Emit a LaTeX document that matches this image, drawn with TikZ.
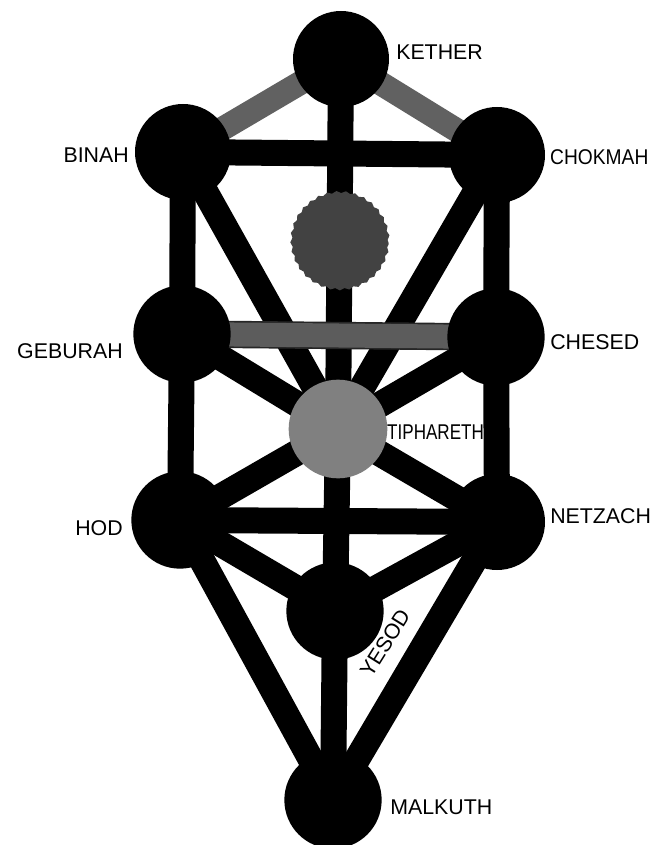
\documentclass[tikz,border=0pt]{standalone}
\usepackage{fontspec}
\setmainfont{Liberation Sans}
\usetikzlibrary{backgrounds,decorations.pathmorphing,positioning}

\definecolor{pathgray}{gray}{0.38}
\definecolor{bargray}{gray}{0.36}
\definecolor{daathgray}{gray}{0.26}
\definecolor{tiphgray}{gray}{0.5}

\begin{document}
\begin{tikzpicture}[x=0.75pt,y=-0.75pt,
  seph/.style={circle,fill=black,inner sep=0pt,minimum size=72pt},
  lbl/.style={font=\fontsize{16}{18}\selectfont,inner sep=0pt},
  channel/.style={line width=19.5pt},
  graychannel/.style={line width=18pt,draw=pathgray}]
\useasboundingbox (0,0) rectangle (653,845);

% sephiroth
\node[seph] (kether) at (341,59) {};
\node[seph] (binah) at (183,152) {};
\node[seph] (chokmah) at (497,155) {};
\node[seph,fill=daathgray,minimum size=73pt,decorate,
  decoration={snake,segment length=7pt,amplitude=0.8pt}] (daath) at (340,243) {};
\node[seph,minimum size=73pt] (geburah) at (182,334) {};
\node[seph,minimum size=73pt] (chesed) at (496,337) {};
\node[seph,fill=tiphgray,minimum size=74pt] (tiphareth) at (338,429) {};
\node[seph,minimum size=73pt] (hod) at (180,520) {};
\node[seph] (netzach) at (497,522) {};
\node[seph,minimum size=73pt] (yesod) at (335,611) {};
\node[seph,minimum size=73pt] (malkuth) at (333,800) {};

% paths
\begin{pgfonlayer}{background}
\foreach \a/\b in {kether/tiphareth,binah/chokmah,binah/geburah,binah/tiphareth,
  chokmah/chesed,chokmah/tiphareth,geburah/tiphareth,geburah/hod,
  chesed/tiphareth,chesed/netzach,tiphareth/hod,tiphareth/netzach,
  tiphareth/yesod,hod/netzach,hod/yesod,netzach/yesod,
  hod/malkuth,netzach/malkuth,yesod/malkuth}
  \draw[channel] (\a.center) -- (\b.center);
\draw[graychannel] (kether.center) -- (binah.center);
\draw[graychannel] (kether.center) -- (chokmah.center);
\draw[graychannel,draw=bargray,preaction={draw=black!85,line width=20.5pt}]
  (geburah.center) -- (chesed.center);
\end{pgfonlayer}

% names
\node[lbl,anchor=west] (ketherlbl) at (396,52) {KETHER};
\node[lbl,anchor=east] (binahlbl) at (129,155) {BINAH};
\node[lbl,anchor=west,xscale=0.9] (chokmahlbl) at (550,157) {CHOKMAH};
\node[lbl,anchor=east] (geburahlbl) at (123,351) {GEBURAH};
\node[lbl,anchor=west] (chesedlbl) at (550,342) {CHESED};
\node[lbl,anchor=west,xscale=0.8] (tipharethlbl) at (387,432) {TIPHARETH};
\node[lbl,anchor=east] (hodlbl) at (123,528) {HOD};
\node[lbl,anchor=west] (netzachlbl) at (550,516) {NETZACH};
\node[lbl,rotate=58] (yesodlbl) at (385,643) {YESOD};
\node[lbl,anchor=west] (malkuthlbl) at (390,807) {MALKUTH};
\end{tikzpicture}
\end{document}
